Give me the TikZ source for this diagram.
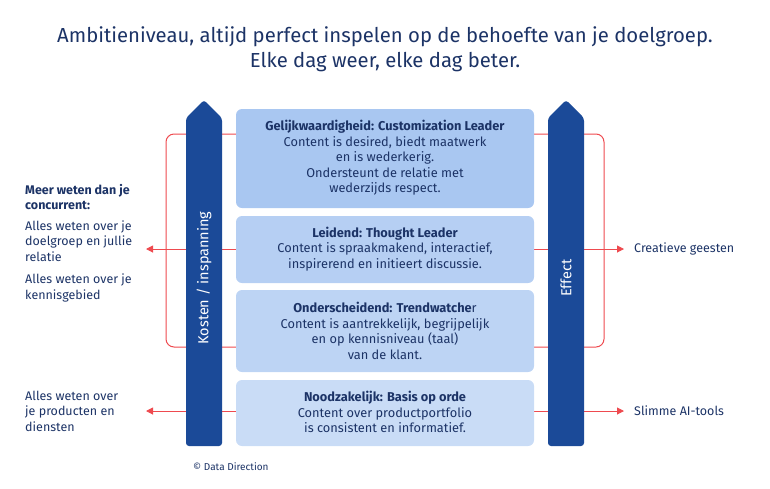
\documentclass[tikz,border=0pt]{standalone}
\usepackage{fontspec}
\setmainfont{Fira Sans}
\usetikzlibrary{arrows.meta}
\definecolor{navy}{HTML}{1C3366}
\definecolor{pillar}{HTML}{1B4A98}
\definecolor{redl}{HTML}{EE4A4F}
\definecolor{bA}{HTML}{A9C7F1}
\definecolor{bB}{HTML}{B6CFF3}
\definecolor{bC}{HTML}{BDD4F4}
\definecolor{bD}{HTML}{C9DCF6}
\tikzset{
 px/.style={x=1pt,y=-1pt},
 box/.style={align=center,text=navy,font=\fontsize{12.8}{15.5}\selectfont,inner sep=0pt},
 side/.style={font=\fontsize{12.5}{15.5}\selectfont,text=navy,align=left,anchor=west,inner sep=0pt},
 rl/.style={draw=redl,line width=1pt},
 ra/.style={rl,-{Triangle[length=7pt,width=7pt]}},
}
\begin{document}
\begin{tikzpicture}[px]
\useasboundingbox (0,0) rectangle (770,488);
\coordinate (lt) at (236,134); \coordinate (lb) at (236,347);
\coordinate (rt) at (534,134); \coordinate (rb) at (534,347);
\draw[rl,rounded corners=8pt] (lt) -- (166,134) -- (166,347) -- (lb);
\draw[rl,rounded corners=8pt] (rt) -- (604,134) -- (604,347) -- (rb);
\coordinate (la) at (146,249); \coordinate (ra) at (624,249);
\coordinate (la2) at (146,411); \coordinate (ra2) at (624,411);
\draw[ra] (236,249) -- (la);
\draw[ra] (534,249) -- (ra);
\draw[ra] (236,411) -- (la2);
\draw[ra] (534,411) -- (ra2);
\fill[pillar,rounded corners=3pt] (186,446) -- (186,118) -- (204,100) -- (222,118) -- (222,446) -- cycle;
\fill[pillar,rounded corners=3pt] (548,446) -- (548,118) -- (566,100) -- (584,118) -- (584,446) -- cycle;
\node[rotate=90,text=white,font=\fontsize{14.5}{16}\selectfont] (kp) at (204,278) {Kosten / inspanning};
\node[rotate=90,text=white,font=\fontsize{14.5}{16}\selectfont] (ef) at (566,278) {Effect};
\fill[bA,rounded corners=6pt] (236,109) rectangle (534,208);
\fill[bB,rounded corners=6pt] (236,216) rectangle (534,283);
\fill[bC,rounded corners=6pt] (236,290) rectangle (534,372);
\fill[bD,rounded corners=6pt] (236,380) rectangle (534,446);
\node[box] (b1) at (385,158) {\textbf{Gelijkwaardigheid: Customization Leader}\\Content is desired, biedt maatwerk\\en is wederkerig.\\Ondersteunt de relatie met\\wederzijds respect.};
\node[box] (b2) at (385,249) {\textbf{Leidend: Thought Leader}\\Content is spraakmakend, interactief,\\inspirerend en initieert discussie.};
\node[box] (b3) at (385,331) {\textbf{Onderscheidend: Trendwatche}r\\Content is aantrekkelijk, begrijpelijk\\en op kennisniveau (taal)\\van de klant.};
\node[box] (b4) at (385,412) {\textbf{Noodzakelijk: Basis op orde}\\Content over productportfolio\\is consistent en informatief.};
\node[align=center,text=navy,font=\fontsize{20.3}{25}\selectfont] (t) at (385,49) {Ambitieniveau, altijd perfect inspelen op de behoefte van je doelgroep.\\Elke dag weer, elke dag beter.};
\node[side,font=\fontsize{12.5}{15.5}\selectfont\bfseries] (m) at (25,197) {Meer weten dan je\\concurrent:};
\node[side] (s1) at (25,241) {Alles weten over je\\doelgroep en jullie\\relatie};
\node[side] (s2) at (25,288) {Alles weten over je\\kennisgebied};
\node[side] (s3) at (25,411) {Alles weten over\\je producten en\\diensten};
\node[side] (r1) at (634,249) {Creatieve geesten};
\node[side] (r2) at (634,411) {Slimme AI-tools};
\node[anchor=west,text=navy,font=\fontsize{10}{11}\selectfont,inner sep=0pt] (c) at (193,467) {© Data Direction};
\end{tikzpicture}
\end{document}
